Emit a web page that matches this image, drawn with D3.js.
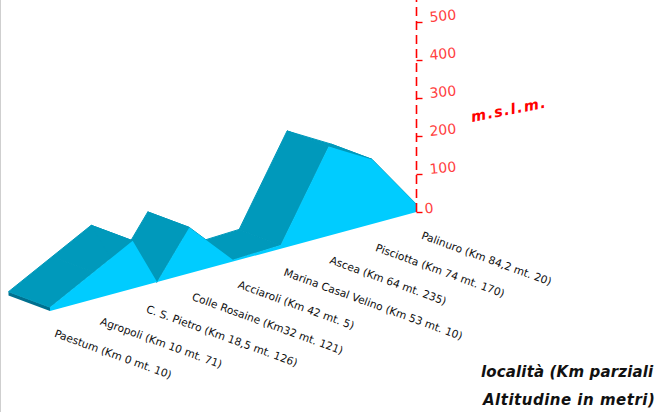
<!DOCTYPE html>
<html><head><meta charset="utf-8">
<script src="https://cdn.jsdelivr.net/npm/d3@7"></script>
<style>html,body{margin:0;padding:0;background:#fff}svg{display:block}text{font-family:"DejaVu Sans",sans-serif}</style>
</head><body><svg id="c" width="658" height="412"></svg>
<script>
const labels = ["Paestum (Km 0 mt. 10)","Agropoli (Km 10 mt. 71)","C. S. Pietro (Km 18,5 mt. 126)","Colle Rosaine (Km32 mt. 121)","Acciaroli (Km 42 mt. 5)","Marina Casal Velino (Km 53 mt. 10)","Ascea (Km 64 mt. 235)","Pisciotta (Km 74 mt. 170)","Palinuro (Km 84,2 mt. 20)"];
const km = [0,10,19,24.6,32,42,53,64,74,84.2];
const altitude = [10,71,126,0,121,5,10,235,170,20];
const altTicks = [0,100,200,300,400,500];
const axisTitle = "m.s.l.m.";
const noteLines = ["località (Km parziali","Altitudine in metri)"];

const svg = d3.select("#c");
const W = 658, H = 412;
const x = d3.scaleLinear().domain([0,84.2]).range([50,416.5]);
const baseY = d3.scaleLinear().domain([0,84.2]).range([311,212]);
const h = d3.scaleLinear().domain([0,500]).range([0,190]);
const depth = {dx:-41.5,dy:-15.5};
const pts = km.map((k,i)=>({k,a:altitude[i]}));
const front = d => [x(d.k), baseY(d.k)-h(d.a)];
const back = d => [x(d.k)+depth.dx, baseY(d.k)-h(d.a)+depth.dy];
const frontBase = d => [x(d.k), baseY(d.k)];
const backBase = d => [x(d.k)+depth.dx, baseY(d.k)+depth.dy];
const line = d3.line();

svg.append("line").attr("x1",0.5).attr("x2",0.5).attr("y1",0).attr("y2",H).attr("stroke","#cfcfcf").attr("stroke-width",1);

// start cap at Paestum
svg.append("path").attr("fill","#00708f")
  .attr("d",line([frontBase(pts[0]),front(pts[0]),back(pts[0]),backBase(pts[0])])+"Z");

// top surface strips
svg.append("g").selectAll("path").data(d3.pairs(pts)).join("path")
  .attr("fill","#0099bb").attr("stroke","#0099bb").attr("stroke-width",1).attr("stroke-linejoin","round")
  .attr("d",([a,b])=>line([front(a),front(b),back(b),back(a)])+"Z");

// front face
const frontPoly = [frontBase(pts[0]),...pts.map(front),frontBase(pts[pts.length-1])];
svg.append("path").attr("fill","#00ccff").attr("d",line(frontPoly)+"Z");

// altitude axis
const yAxisScale = d3.scaleLinear().domain([0,500]).range([212,22]);
const axisG = svg.append("g").attr("transform","translate(416.5,0)")
  .call(d3.axisRight(yAxisScale).tickValues(altTicks).tickSize(6).tickSizeOuter(0).tickPadding(6));
axisG.select(".domain").remove();
axisG.append("line").attr("y1",212).attr("y2",0).attr("stroke","#ff0000").attr("stroke-width",1.6).attr("stroke-dasharray","9 5");
axisG.selectAll(".tick line").attr("stroke","#ff0000").attr("stroke-width",1.4);
axisG.selectAll(".tick text").attr("fill","#ff4040").attr("font-size",14)
  .style("font-family",'"DejaVu Sans",sans-serif')
  .attr("text-anchor","start")
  .attr("transform",d=>`translate(${d===0?8:13},${d===0?-4:-5.5}) rotate(-5)`)
  .attr("x",0).attr("dy","0.35em");

svg.append("text").text(axisTitle).attr("transform","translate(472,122) rotate(-11)")
  .attr("fill","#ff0000").attr("font-size",14.5).attr("font-weight",700).attr("font-style","italic").attr("letter-spacing",1.4);

// category labels
const lx = d3.scalePoint().domain(labels).range([55,422]);
const ly = d3.scalePoint().domain(labels).range([333,235]);
svg.append("g").selectAll("text").data(labels).join("text").text(d=>d)
  .attr("transform",d=>`translate(${lx(d)},${ly(d)}) rotate(20)`)
  .attr("font-size",10.7).attr("fill","#111").attr("dy","0.35em");

svg.append("g").selectAll("text").data(noteLines).join("text").text(d=>d)
  .attr("x",(d,i)=>i?483:481).attr("y",(d,i)=>i?405:377)
  .attr("font-size",15).attr("font-weight",700).attr("font-style","italic").attr("fill","#111")
  .attr("letter-spacing",(d,i)=>i?0.5:0.15);
</script></body></html>
